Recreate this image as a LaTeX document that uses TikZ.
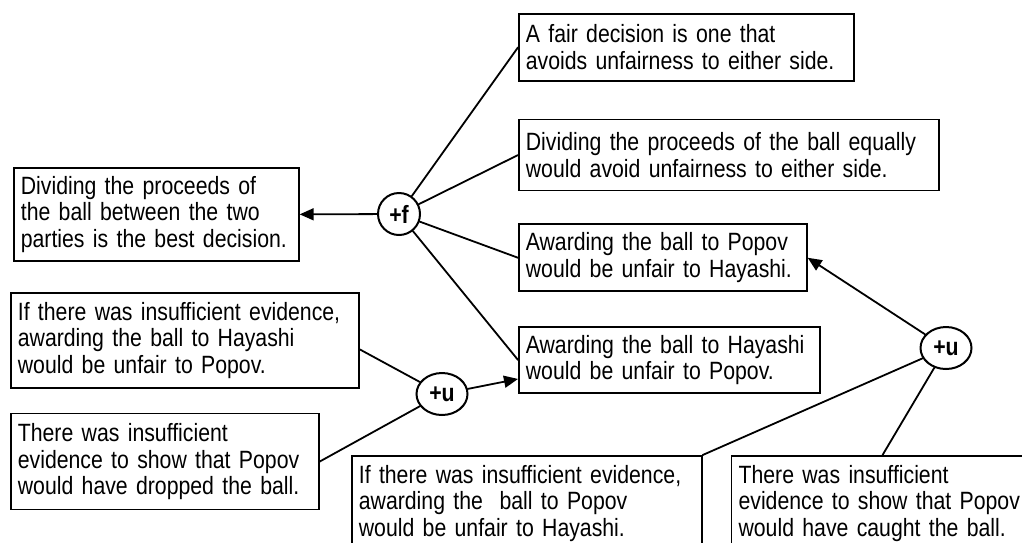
\documentclass[tikz,border=0pt]{standalone}
\usepackage{fontspec}
\setmainfont{Liberation Sans}[FakeStretch=0.85]
\usepackage{tikz}
\usetikzlibrary{positioning,shapes.geometric,arrows.meta}

\begin{document}
\begin{tikzpicture}[x=1pt, y=-1pt,
claimnode/.style={rectangle, draw=black, line width=1.7pt, align=left, anchor=north west,
  inner xsep=7pt, inner ysep=2pt, font=\fontsize{25}{26.8}\selectfont},
fnode/.style={circle, draw=black, line width=2pt, minimum size=42pt, inner sep=0pt,
  font=\fontsize{25}{26}\selectfont\bfseries},
unode/.style={ellipse, draw=black, line width=2pt, minimum width=51pt, minimum height=42pt,
  inner sep=0pt, font=\fontsize{25}{26}\selectfont\bfseries},
conn/.style={line width=1.8pt, line cap=round},
]
\useasboundingbox (0,0) rectangle (1022,542);
\clip (0,0) rectangle (1022,542);

%Nodes
\node[claimnode, text width=321pt, minimum height=67pt] (fairdef) at (518,13)
  {A fair decision is one that\\avoids unfairness to either side.};
\node[claimnode, text width=406pt, minimum height=71pt] (equal) [below=37pt of fairdef.south west, anchor=north west]
  {Dividing the proceeds of the ball equally\\would avoid unfairness to either side.};
\node[claimnode, text width=274pt, minimum height=67pt] (popovunfair) [below=32pt of equal.south west, anchor=north west]
  {Awarding the ball to Popov\\would be unfair to Hayashi.};
\node[claimnode, text width=287pt, minimum height=66pt] (hayashiunfair) [below=34pt of popovunfair.south west, anchor=north west]
  {Awarding the ball to Hayashi\\would be unfair to Popov.};

\node[claimnode, text width=271pt, minimum height=93pt] (best) at (13,167)
  {Dividing the proceeds of\\the ball between the two\\parties is the best decision.};
\node[claimnode, text width=334pt, minimum height=95pt] (hayashiif) at (10,292)
  {If there was insufficient evidence,\\awarding the ball to Hayashi\\would be unfair to Popov.};
\node[claimnode, text width=294pt, minimum height=96pt] (dropped) [below=24pt of hayashiif.south west, anchor=north west]
  {There was insufficient\\evidence to show that Popov\\would have dropped the ball.};

\node[claimnode, text width=336pt, minimum height=95pt] (popovif) at (351,455)
  {If there was insufficient evidence,\\awarding the\ \ ball to Popov\\would be unfair to Hayashi.};
\node[claimnode, text width=288pt, minimum height=95pt] (caught) [right=28pt of popovif.north east, anchor=north west]
  {There was insufficient\\evidence to show that Popov\\would have caught the ball.};

\node[fnode] (plusf) at (399,214) {+f};
\node[unode] (plusu1) at (442,394) {+u};
\node[unode] (plusu2) at (946,348) {+u};

%Lines
\draw[conn, -{Triangle[length=14pt,width=12pt]}] (plusf) -- (best.east);
\draw[conn] (plusf) -- (fairdef.west);
\draw[conn] (plusf) -- (equal.west);
\draw[conn] (plusf) -- (popovunfair.west);
\draw[conn] (plusf) -- (hayashiunfair.west);

\draw[conn] ([yshift=-9pt]hayashiif.east) -- (plusu1);
\draw[conn] (dropped.east) -- (plusu1);
\draw[conn, -{Triangle[length=14pt,width=12pt]}] (plusu1) -- ([yshift=-19pt]hayashiunfair.west);

\draw[conn, -{Triangle[length=14pt,width=12pt]}] (plusu2) -- (popovunfair.east);
\draw[conn] (popovif.north east) -- (plusu2);
\draw[conn] (caught.north) -- (plusu2);
\end{tikzpicture}
\end{document}
